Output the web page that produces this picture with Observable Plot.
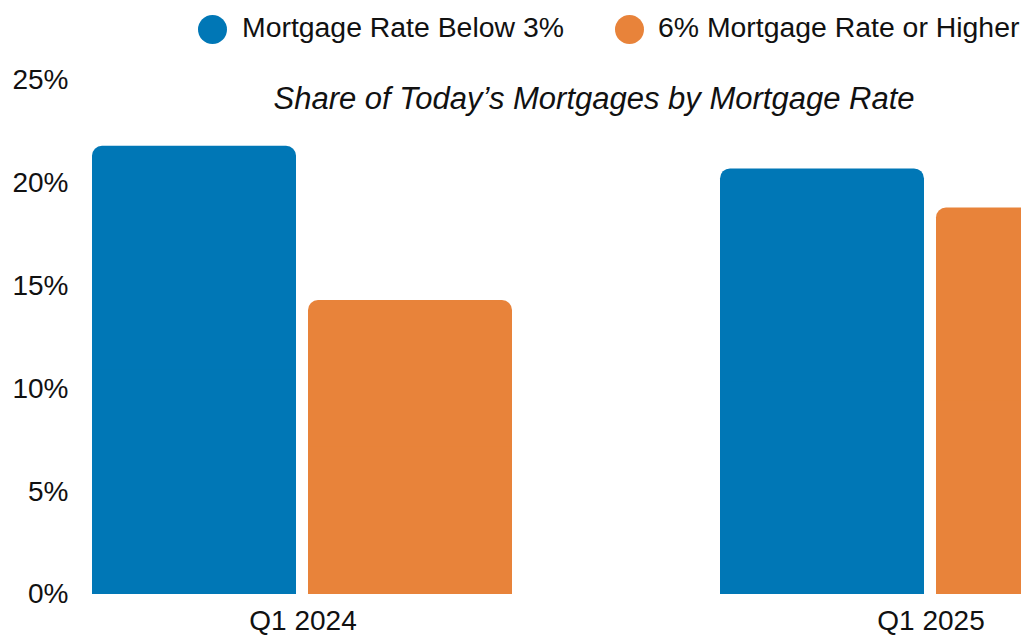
<!DOCTYPE html>
<html><head><meta charset="utf-8">
<script src="https://cdn.jsdelivr.net/npm/d3@7"></script>
<script src="https://cdn.jsdelivr.net/npm/@observablehq/plot@0.6"></script>
<style>
html,body{margin:0;padding:0;background:#fff;overflow:hidden;width:1021px;height:635px}
#wrap{position:relative;width:1021px;height:635px;overflow:hidden;font-family:"Liberation Sans",Arial,sans-serif;color:#111}
#chart{position:absolute;left:0;top:0}
.dot{position:absolute;width:29px;height:29px;border-radius:50%;top:14.5px}
.lt{position:absolute;font-size:28.4px;line-height:28px;white-space:nowrap;top:13px}
#title{position:absolute;left:0;width:1188px;text-align:center;font-style:italic;font-size:31px;line-height:31px;top:83px;white-space:nowrap}
</style></head>
<body>
<div id="wrap">
  <div id="chart"></div>
  <div id="legend"></div>
  <div id="title">Share of Today’s Mortgages by Mortgage Rate</div>
</div>
<script>
const quarters = ["Q1 2024", "Q1 2025"];
const series = ["Mortgage Rate Below 3%", "6% Mortgage Rate or Higher"];
const below3 = [21.8, 20.7];
const sixPlus = [14.3, 18.8];
const colors = ["#0077b6", "#e8833a"];
const yTicks = [0, 5, 10, 15, 20, 25];

const rows = quarters.flatMap((q, i) => [
  {quarter: q, series: series[0], value: below3[i]},
  {quarter: q, series: series[1], value: sixPlus[i]}
]);

const chart = Plot.plot({
  width: 1160,
  height: 635,
  marginTop: 80,
  marginBottom: 41,
  marginLeft: 91,
  marginRight: 19,
  style: {fontFamily: '"Liberation Sans", Arial, sans-serif', fontSize: "28px", color: "#111", maxWidth: "none", background: "transparent", overflow: "visible"},
  facet: {marginTop: 0, marginBottom: 0, marginLeft: 0, marginRight: 0},
  fx: {domain: quarters, paddingInner: 0.33, paddingOuter: 0, label: null, axis: "bottom", tickSize: 0, tickPadding: 16},
  x: {domain: series, paddingInner: 0.055, paddingOuter: 0, axis: null},
  y: {domain: [0, 25], ticks: yTicks, tickFormat: d => d + "%", tickSize: 0, tickPadding: 24, label: null},
  color: {domain: series, range: colors},
  marks: [
    Plot.barY(rows, {fx: "quarter", x: "series", y: "value", fill: "series", rx: 10}),
    Plot.barY(rows, {fx: "quarter", x: "series", y: d => d.value / 2, fill: "series"})
  ]
});
document.getElementById("chart").appendChild(chart);

const legend = document.getElementById("legend");
const legendPos = [{dot: 197.5, text: 242}, {dot: 615, text: 658}];
series.forEach((s, i) => {
  const d = document.createElement("div");
  d.className = "dot";
  d.style.left = legendPos[i].dot + "px";
  d.style.background = colors[i];
  legend.appendChild(d);
  const t = document.createElement("div");
  t.className = "lt";
  t.style.left = legendPos[i].text + "px";
  t.textContent = s;
  legend.appendChild(t);
});
</script>
</body></html>
